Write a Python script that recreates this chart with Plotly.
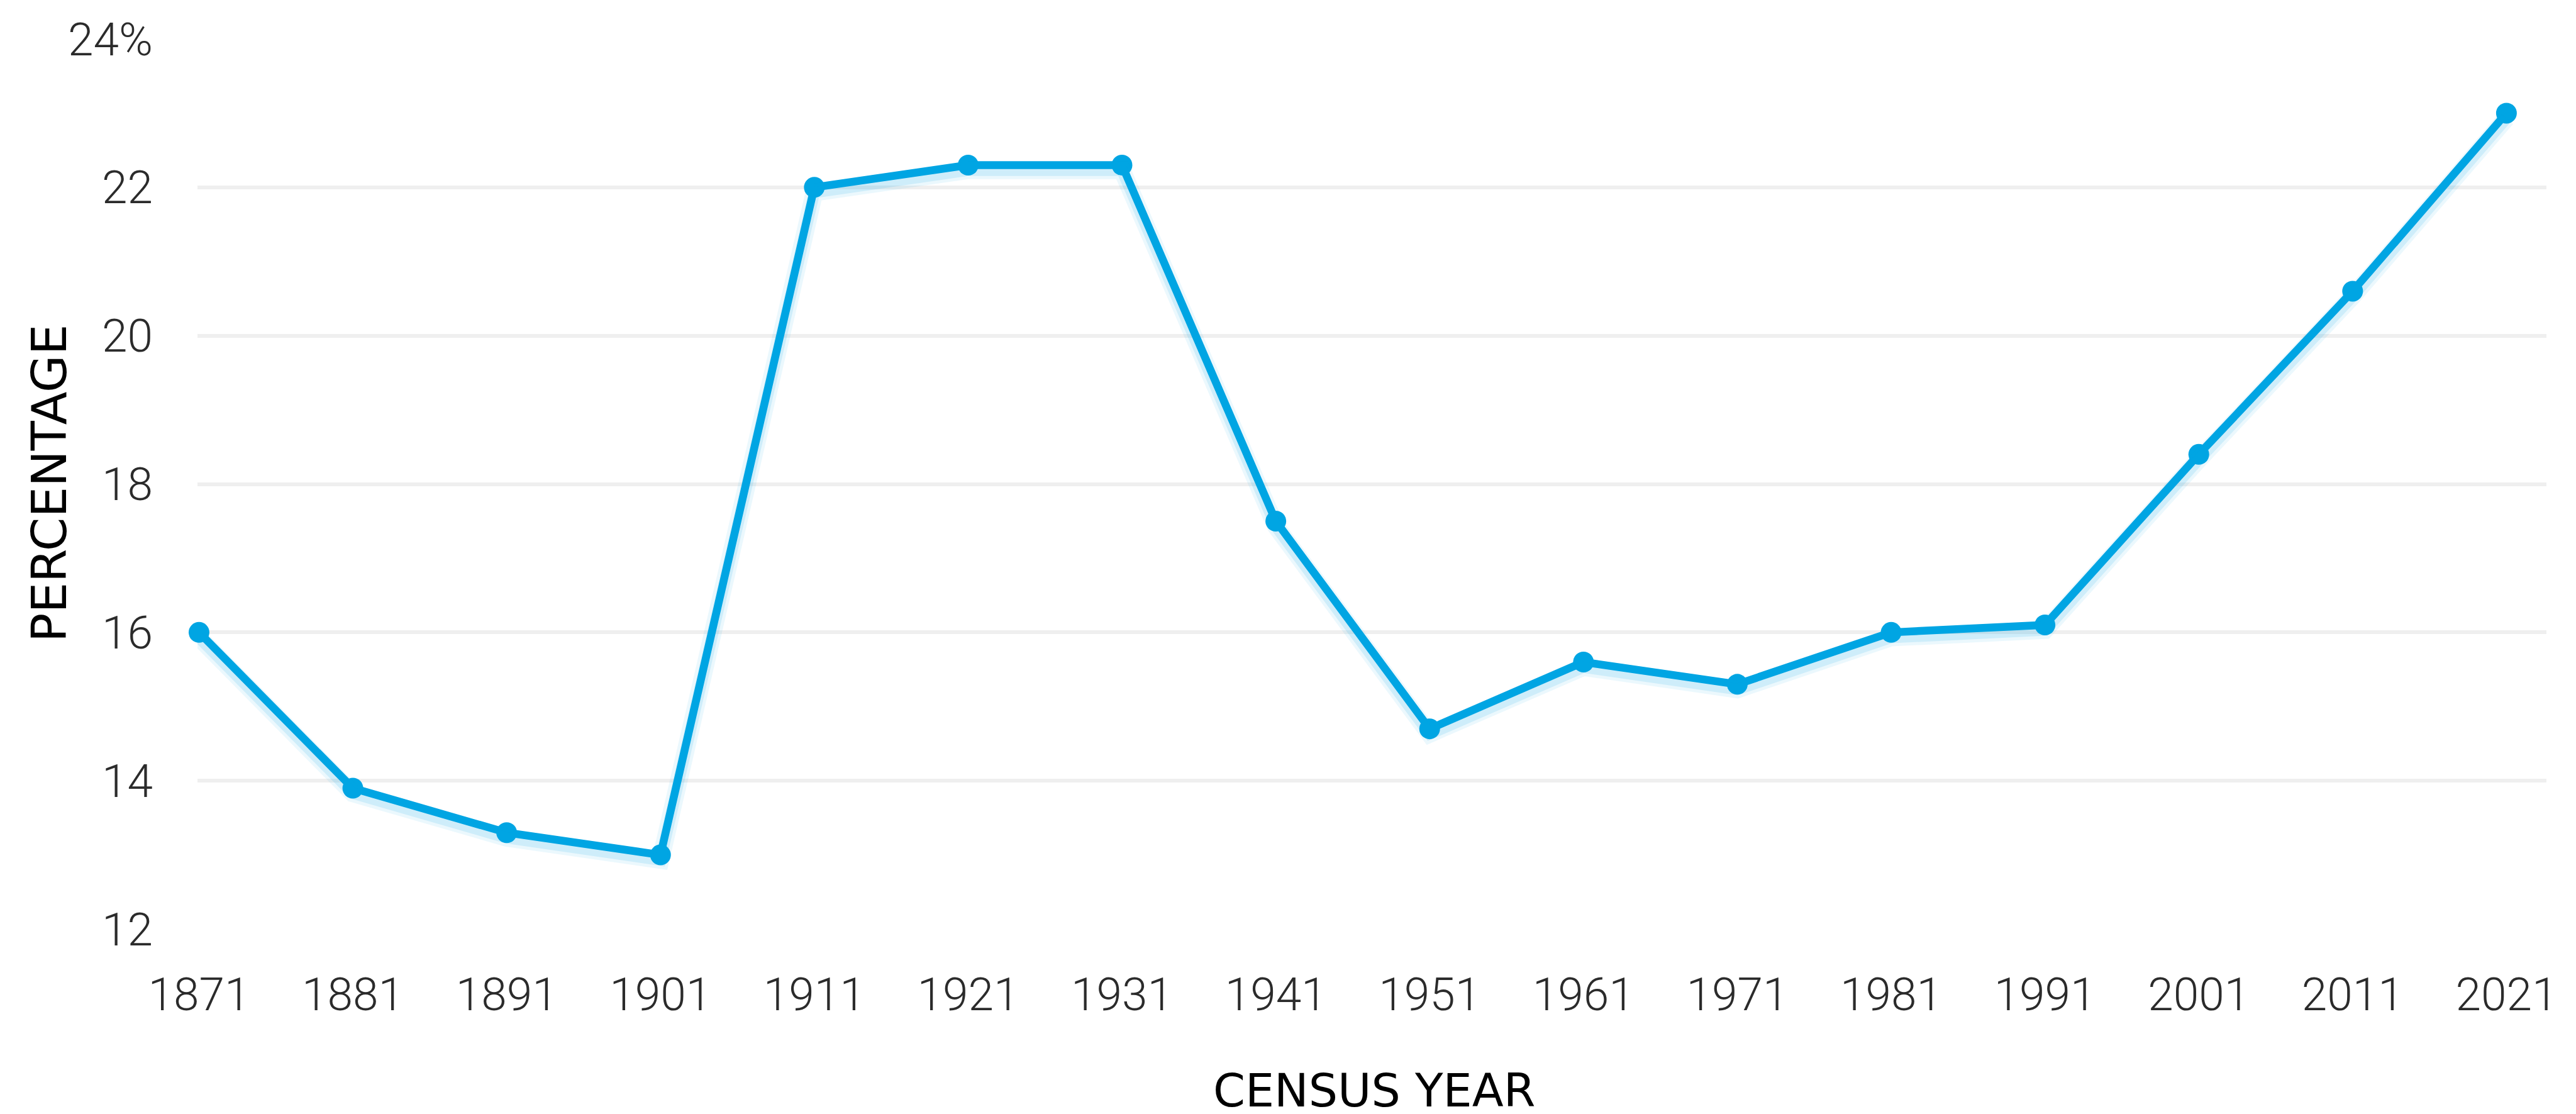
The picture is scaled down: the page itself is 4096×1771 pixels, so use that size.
import plotly.graph_objects as go

years = [1871, 1881, 1891, 1901, 1911, 1921, 1931, 1941, 1951, 1961, 1971, 1981, 1991, 2001, 2011, 2021]
percent = [16.0, 13.9, 13.3, 13.0, 22.0, 22.3, 22.3, 17.5, 14.7, 15.6, 15.3, 16.0, 16.1, 18.4, 20.6, 23.0]
y_ticks = [12, 14, 16, 18, 20, 22, 24]
y_ticktext = ["12", "14", "16", "18", "20", "22", "24%"]
x_title = "CENSUS YEAR"
y_title = "PERCENTAGE"

BLUE = "#00a5e3"
TICK_FONT = dict(family="Roboto, sans-serif", size=73, color="#2b2b2b", weight=300)
TITLE_FONT = dict(family="DejaVu Sans, sans-serif", size=73, color="#000000")
YTITLE_FONT = dict(family="DejaVu Sans, sans-serif", size=77, color="#000000")

fig = go.Figure()

# soft shadow (same data, drawn on a slightly shifted overlay axis)
fig.add_trace(go.Scatter(x=years, y=percent, mode="lines", yaxis="y2", xaxis="x",
                         line=dict(color="rgba(0,165,227,0.08)", width=28),
                         hoverinfo="skip", showlegend=False))
fig.add_trace(go.Scatter(x=years, y=percent, mode="lines", yaxis="y2", xaxis="x",
                         line=dict(color="rgba(0,165,227,0.12)", width=18),
                         hoverinfo="skip", showlegend=False))

fig.add_trace(go.Scatter(x=years, y=percent, mode="lines+markers",
                         line=dict(color=BLUE, width=12.5),
                         marker=dict(color=BLUE, size=33),
                         cliponaxis=False, showlegend=False))

fig.update_layout(
    width=4096, height=1771,
    margin=dict(l=306, r=55, t=50, b=302),
    paper_bgcolor="white", plot_bgcolor="white",
    showlegend=False,
    xaxis=dict(range=[1870.9, 2023.6], tickmode="array", tickvals=years,
               ticktext=[str(y) for y in years], showgrid=False, zeroline=False,
               showline=False, ticks="", tickfont=TICK_FONT, ticklabelstandoff=55),
    yaxis=dict(range=[12, 24], tickmode="array", tickvals=y_ticks, ticktext=y_ticktext,
               showgrid=True, gridcolor="#efefef", gridwidth=5.5, zeroline=False,
               showline=False, ticks="", tickfont=TICK_FONT, ticklabelstandoff=70),
    yaxis2=dict(range=[12 + 0.07, 24 + 0.07], overlaying="y", visible=False),
    annotations=[
        dict(text=x_title, xref="paper", yref="paper", x=0.501, y=-0.2128,
             xanchor="center", yanchor="bottom", showarrow=False, font=TITLE_FONT),
        dict(text=y_title, xref="paper", yref="paper", x=-0.0632, y=0.501,
             xanchor="center", yanchor="middle", showarrow=False, textangle=-90,
             font=YTITLE_FONT),
    ],
)

fig.write_html("out.html")
